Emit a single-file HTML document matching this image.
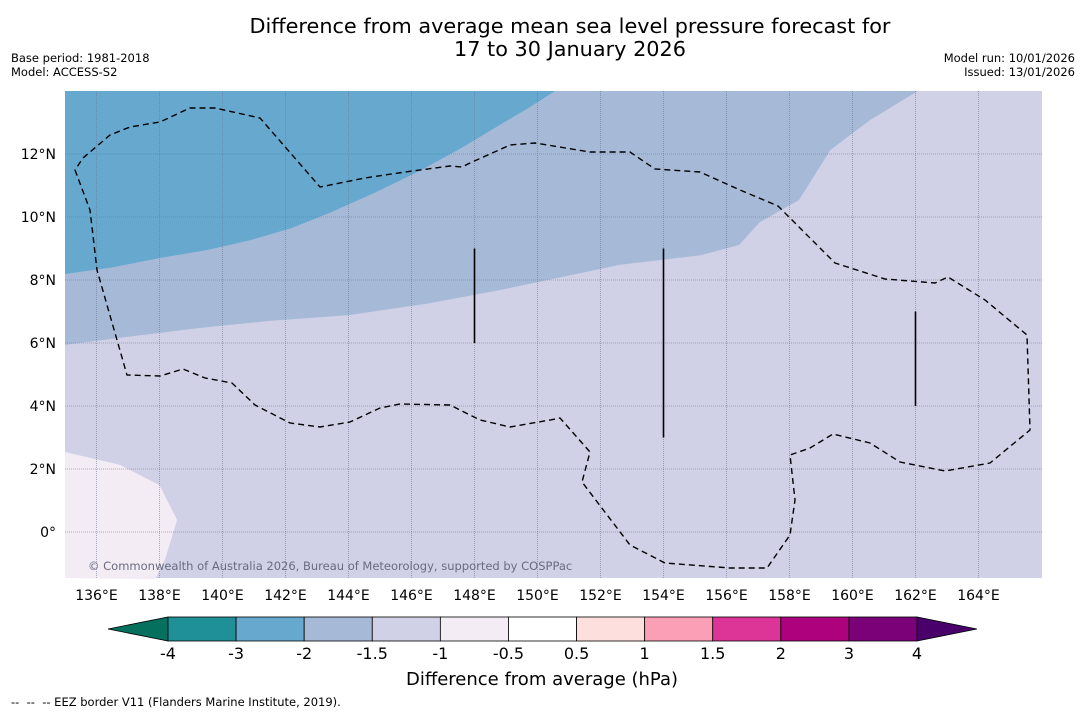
<!DOCTYPE html>
<html><head><meta charset="utf-8">
<style>
body{margin:0;width:1085px;height:713px;background:#fff;font-family:"Liberation Sans","DejaVu Sans",sans-serif;overflow:hidden;position:relative}
.t{position:absolute;white-space:nowrap;color:#000}
</style></head><body>
<div class="t" style="left:0;width:1140px;text-align:center;top:15px;font-size:20.8px;line-height:23px;font-family:'DejaVu Sans',sans-serif">Difference from average mean sea level pressure forecast for<br>17 to 30 January 2026</div>
<div class="t" style="left:11px;top:51px;font-size:11.5px;line-height:14px;font-family:'DejaVu Sans',sans-serif">Base period: 1981-2018<br>Model: ACCESS-S2</div>
<div class="t" style="right:10px;top:51px;font-size:11.5px;line-height:14px;text-align:right;font-family:'DejaVu Sans',sans-serif">Model run: 10/01/2026<br>Issued: 13/01/2026</div>
<svg id="svg" width="1085" height="713" style="position:absolute;left:0;top:0" font-family="DejaVu Sans, sans-serif"></svg>
<div class="t" style="left:11px;top:695px;font-size:11.5px;font-family:'DejaVu Sans',sans-serif">--&nbsp; --&nbsp; -- EEZ border V11 (Flanders Marine Institute, 2019).</div>
<script>
// data
const lonTicks=[136,138,140,142,144,146,148,150,152,154,156,158,160,162,164];
const latTicks=[0,2,4,6,8,10,12];
const bandDarkMid=[[135,8.19],[136.5,8.4],[138,8.7],[139.5,8.95],[140.9,9.27],[142.2,9.65],[143.4,10.13],[144.9,10.8],[146.3,11.49],[147.6,12.2],[148.8,12.92],[149.7,13.45],[150.56,14]];
const bandMidLight=[[135,5.94],[137,6.2],[139.3,6.48],[141.5,6.7],[144.05,6.89],[146.5,7.25],[148.8,7.68],[150.8,8.1],[152.6,8.48],[155.2,8.79],[156.4,9.11],[157.06,9.84],[158.3,10.54],[159.3,12.13],[160.56,13.08],[162.08,14]];
const bandLightLightest=[[135,2.54],[136.75,2.13],[138,1.49],[138.56,0.38],[138.17,-0.89],[137.86,-1.5]];
const cbTicks=['-4','-3','-2','-1.5','-1','-0.5','0.5','1','1.5','2','3','4'];
const cbColors=['#1f9098','#67a8cf','#a6bad8','#d0d0e6','#f3ecf5','#ffffff','#fde0dd','#fa9fb5','#dd3497','#ae017e','#7a0177'];
const vLines=[[148,9,6],[154,9,3],[162,7,4]];

const X0=65,X1=1042,Y0=91,Y1=578;
const lonMin=135,latMax=14,k=31.5;
const xs=l=>X0+(l-lonMin)*k, ys=a=>Y0+(latMax-a)*k;
const svg=document.getElementById('svg');const NS='http://www.w3.org/2000/svg';
function mk(t,a,p){const e=document.createElementNS(NS,t);for(const q in a)e.setAttribute(q,a[q]);(p||svg).appendChild(e);return e;}
const pts=arr=>arr.map(p=>xs(p[0]).toFixed(1)+','+ys(p[1]).toFixed(1)).join(' ');
let e;
e=mk('rect',{x:X0,y:Y0,width:X1-X0,height:Y1-Y0,fill:'#d0d0e6'});


e=mk('polygon',{points:pts(bandMidLight)+` ${xs(lonMin)},${Y0}`,fill:'#a6bad8'});


e=mk('polygon',{points:pts(bandDarkMid)+` ${xs(lonMin)},${Y0}`,fill:'#67a8cf'});


e=mk('polygon',{points:pts(bandLightLightest)+` ${X0},${Y1}`,fill:'#f3ecf5'});


lonTicks.forEach(l=>{
 e=mk('line',{x1:xs(l),x2:xs(l),y1:Y0,y2:Y1,stroke:'#6a7590','stroke-width':0.8,'stroke-dasharray':'1,1','stroke-opacity':0.7});
 
 
 e=mk('text',{x:xs(l),y:600,'font-size':14,'text-anchor':'middle'});e.textContent=l+'°E';
 
 
});
latTicks.forEach(a=>{
 e=mk('line',{x1:X0,x2:X1,y1:ys(a),y2:ys(a),stroke:'#6a7590','stroke-width':0.8,'stroke-dasharray':'1,1','stroke-opacity':0.7});
 
 
 e=mk('text',{x:56,y:ys(a)+5,'font-size':14,'text-anchor':'end'});e.textContent=a===0?'0°':a+'°N';
 
 
});
vLines.forEach(v=>{
 e=mk('line',{x1:xs(v[0]),x2:xs(v[0]),y1:ys(v[1]),y2:ys(v[2]),stroke:'#000','stroke-width':1.6});
 
 
});
e=mk('polygon',{points:'75,170 90,210 97,270 127,375 160,376 183,369 205,378 232,383 255,405 290,423 320,427 350,422 380,408 400,404 450,405 480,420 510,427 550,420 560,418 590,452 582,482 630,545 665,563 730,568 767,568 790,535 795,500 790,455 810,448 833,434 870,443 900,462 945,471 990,463 1030,430 1027,335 985,300 948,277 935,283 885,279 835,263 778,206 740,190 700,172 655,169 630,152 590,152 535,143 510,145 470,163 462,167 450,166 405,172 365,178 320,187 260,118 215,108 190,108 160,122 130,127 110,135 83,158',fill:'none',stroke:'#000','stroke-width':1.4,'stroke-dasharray':'6,4'});


e=mk('text',{x:88,y:570,'font-size':11.5,fill:'#6a6a80'});e.textContent='© Commonwealth of Australia 2026, Bureau of Meteorology, supported by COSPPac';


const cbL=168,cbR=917,cbT=617,cbB=641,w=(cbR-cbL)/cbColors.length;
e=mk('polygon',{points:`108,629 ${cbL},${cbT} ${cbL},${cbB}`,fill:'#05705e',stroke:'#000','stroke-width':0.8});


e=mk('polygon',{points:`977,629 ${cbR},${cbT} ${cbR},${cbB}`,fill:'#49006a',stroke:'#000','stroke-width':0.8});


cbColors.forEach((c,i)=>{
 e=mk('rect',{x:cbL+i*w,y:cbT,width:w,height:cbB-cbT,fill:c,stroke:'#000','stroke-width':0.8});
 
 
});
cbTicks.forEach((t,i)=>{
 e=mk('text',{x:cbL+i*w,y:659,'font-size':16,'text-anchor':'middle'});e.textContent=t;
 
 
});
e=mk('text',{x:542,y:685,'font-size':18,'text-anchor':'middle'});e.textContent='Difference from average (hPa)';


</script>
</body></html>
